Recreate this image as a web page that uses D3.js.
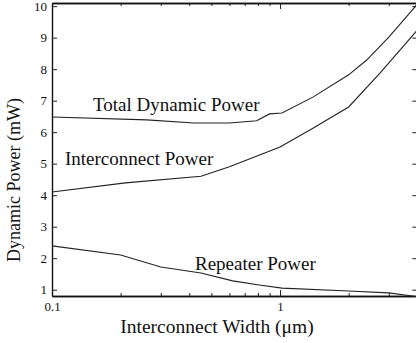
<!DOCTYPE html>
<html>
<head>
<meta charset="utf-8">
<script src="https://cdn.jsdelivr.net/npm/d3@7"></script>
<style>
  body { margin: 0; background: #fff; }
  text { font-family: "Liberation Serif", "DejaVu Serif", serif; fill: #111; }
</style>
</head>
<body>
<div id="chart"></div>
<script>
// values
var totalW = [0.1, 0.26, 0.42, 0.6, 0.79, 0.9, 1.02, 1.4, 2.0, 2.4, 3.0, 3.9, 4.0];
var totalP = [6.48, 6.39, 6.29, 6.29, 6.36, 6.58, 6.61, 7.12, 7.82, 8.29, 9.02, 9.97, 10.07];

var interW = [0.1, 0.21, 0.45, 0.6, 1.0, 1.4, 2.0, 2.75, 4.0];
var interP = [4.1, 4.39, 4.6, 4.9, 5.53, 6.13, 6.8, 7.88, 9.24];

var repW = [0.1, 0.2, 0.3, 0.45, 0.62, 0.81, 1.02, 2.0, 3.0, 4.0];
var repP = [2.39, 2.1, 1.72, 1.53, 1.28, 1.15, 1.05, 0.96, 0.9, 0.78];

var xMinor = [0.1, 0.2, 0.3, 0.4, 0.5, 0.6, 0.7, 0.8, 0.9, 1, 2, 3];
var xMajor = [0.1, 1];
var yTicks = [1, 2, 3, 4, 5, 6, 7, 8, 9, 10];

var width = 416,
    height = 343,
    padL = 52,
    padR = 417.3,
    padT = 3,
    padB = 296;

var x = d3.scaleLog().domain([0.1, 4]).range([padL, padR]);
var y = d3.scaleLinear().domain([0.8, 10.1]).range([padB, padT]);

var svg = d3.select("#chart").append("svg")
    .attr("width", width)
    .attr("height", height);

// bottom axis: minor ticks then labelled majors
svg.append("g")
    .attr("transform", "translate(0," + padB + ")")
    .call(d3.axisBottom(x).tickValues(xMinor).tickSize(-3).tickSizeOuter(0).tickFormat(""));
svg.append("g")
    .attr("transform", "translate(0," + padB + ")")
    .call(d3.axisBottom(x).tickValues(xMajor).tickSize(-6).tickSizeOuter(0).tickPadding(6)
        .tickFormat(function (d) { return d < 1 ? "0.1" : "1"; }));

// top border with mirrored ticks
svg.append("g")
    .attr("transform", "translate(0," + padT + ")")
    .call(d3.axisTop(x).tickValues(xMinor).tickSize(-3).tickSizeOuter(0).tickFormat(""));
svg.append("g")
    .attr("transform", "translate(0," + padT + ")")
    .call(d3.axisTop(x).tickValues(xMajor).tickSize(-6).tickSizeOuter(0).tickFormat(""));

// left and right axes
svg.append("g")
    .attr("transform", "translate(" + padL + ",0)")
    .call(d3.axisLeft(y).tickValues(yTicks).tickSize(-5).tickSizeOuter(0).tickPadding(5));
svg.append("g")
    .attr("transform", "translate(" + padR + ",0)")
    .call(d3.axisRight(y).tickValues(yTicks).tickSize(-5).tickSizeOuter(0).tickFormat(""));

svg.selectAll(".domain").attr("stroke", "#111").attr("stroke-width", 1.4);
svg.selectAll(".tick line").attr("stroke", "#222");
svg.selectAll(".tick text").attr("font-size", "13px").attr("fill", "#111")
    .attr("font-family", "Liberation Serif, serif");

var line = d3.line()
    .x(function (d) { return x(d[0]); })
    .y(function (d) { return y(d[1]); });

[[totalW, totalP], [interW, interP], [repW, repP]].forEach(function (s) {
    svg.append("path")
        .datum(d3.zip(s[0], s[1]))
        .attr("d", line)
        .attr("fill", "none")
        .attr("stroke", "#222")
        .attr("stroke-width", 1.1);
});

// curve labels
svg.append("text").attr("x", 93).attr("y", 111).attr("font-size", "19px").text("Total Dynamic Power");
svg.append("text").attr("x", 65).attr("y", 165).attr("font-size", "19px").text("Interconnect Power");
svg.append("text").attr("x", 195).attr("y", 270).attr("font-size", "19px").text("Repeater Power");

// axis titles
svg.append("text")
    .attr("x", 217)
    .attr("y", 333)
    .attr("text-anchor", "middle")
    .attr("font-size", "19.5px")
    .text("Interconnect Width (\u03bcm)");
svg.append("text")
    .attr("transform", "translate(20,180)rotate(-90)")
    .attr("text-anchor", "middle")
    .attr("font-size", "18px")
    .text("Dynamic Power (mW)");
</script>
</body>
</html>
